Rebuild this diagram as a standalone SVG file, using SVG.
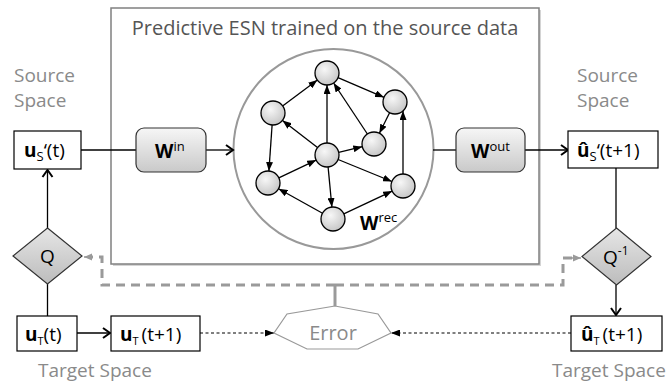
<svg xmlns="http://www.w3.org/2000/svg" width="669" height="383" viewBox="0 0 669 383">
<defs>
<radialGradient id="gNode" cx="0.4" cy="0.35" r="0.7">
<stop offset="0" stop-color="#f7f7f7"/><stop offset="1" stop-color="#c4c4c4"/>
</radialGradient>
<linearGradient id="gBox" x1="0" y1="0" x2="0" y2="1">
<stop offset="0" stop-color="#f6f6f6"/><stop offset="1" stop-color="#c9c9c9"/>
</linearGradient>
<linearGradient id="gDia" x1="0" y1="0" x2="0" y2="1">
<stop offset="0" stop-color="#e6e6e6"/><stop offset="1" stop-color="#bcbcbc"/>
</linearGradient>
<marker id="chev" markerUnits="userSpaceOnUse" markerWidth="12" markerHeight="12" refX="10" refY="6" orient="auto" overflow="visible">
<path d="M3,1 L10,6 L3,11" fill="none" stroke="#000" stroke-width="2"/>
</marker>
<marker id="tri" markerUnits="userSpaceOnUse" markerWidth="9" markerHeight="7" refX="9" refY="3.5" orient="auto">
<path d="M0,0 L9,3.5 L0,7 z" fill="#000"/>
</marker>
<marker id="gtri" markerUnits="userSpaceOnUse" markerWidth="8" markerHeight="8" refX="8" refY="4" orient="auto">
<path d="M0,0.5 L8,4 L0,7.5 z" fill="#9a9a9a"/>
</marker>
</defs>
<style>
text{font-family:"Open Sans","Liberation Sans",sans-serif;}
.lbl{font-size:19px;fill:#8a8a8a;}
.title{font-size:20px;fill:#555;}
.box{fill:#fff;stroke:#000;stroke-width:1.2;}
.wbox{fill:url(#gBox);stroke:#333;stroke-width:1.2;}
.dia{fill:url(#gDia);stroke:#333;stroke-width:1.2;}
.node{fill:url(#gNode);stroke:#000;stroke-width:1.3;}
.bt{font-size:19px;fill:#000;}
.w{font-size:19px;font-weight:bold;fill:#000;}
.sup{font-size:13px;font-weight:normal;}
.edge{stroke:#000;stroke-width:1.3;fill:none;marker-end:url(#tri);}
.solid{stroke:#000;stroke-width:1.3;fill:none;}
.arr{stroke:#000;stroke-width:1.3;fill:none;marker-end:url(#chev);}
.dot{stroke:#000;stroke-width:1.2;stroke-dasharray:3,2.5;fill:none;marker-end:url(#tri);}
.dash{stroke:#9a9a9a;stroke-width:3;stroke-dasharray:9,6;fill:none;}
</style>

<g id="esn-frame">
<rect x="113" y="10" width="428" height="256" fill="#d4d4d4"/>
<rect x="111" y="8" width="428" height="256" fill="#fff" stroke="#808080" stroke-width="1.5"/>
<text class="title" x="325" y="35" text-anchor="middle">Predictive ESN trained on the source data</text>
</g>

<g id="source-label-left"><text class="lbl" x="14" y="82">Source</text><text class="lbl" x="14" y="107">Space</text></g>
<g id="source-label-right"><text class="lbl" x="577" y="82">Source</text><text class="lbl" x="577" y="107">Space</text></g>
<g id="target-label-left"><text class="lbl" x="38" y="377">Target Space</text></g>
<g id="target-label-right"><text class="lbl" x="552" y="377">Target Space</text></g>

<g id="reservoir">
<circle cx="333.5" cy="149" r="100" fill="#fff" stroke="#999" stroke-width="2"/>
<text class="w" x="360" y="230" font-size="20">W<tspan class="sup" dy="-8" font-size="14">rec</tspan></text>
</g>

<g id="connectors">
<line class="edge" x1="282.6" y1="105.9" x2="317.4" y2="80.1"/>
<line class="edge" x1="338" y1="77.7" x2="384" y2="97.3"/>
<line class="edge" x1="327" y1="143" x2="327" y2="85"/>
<line class="edge" x1="367.4" y1="134" x2="333.6" y2="83"/>
<line class="edge" x1="389.6" y1="112.7" x2="379.4" y2="133.3"/>
<line class="edge" x1="403" y1="174" x2="403" y2="111"/>
<line class="edge" x1="317.5" y1="147.6" x2="282.5" y2="120.4"/>
<line class="edge" x1="272.1" y1="125" x2="268.9" y2="171"/>
<line class="edge" x1="278.8" y1="177.9" x2="316.2" y2="160.1"/>
<line class="edge" x1="338.7" y1="152.3" x2="362.3" y2="146.7"/>
<line class="edge" x1="338.1" y1="159.5" x2="391.9" y2="181.5"/>
<line class="edge" x1="328.1" y1="167" x2="331.9" y2="207"/>
<line class="edge" x1="322.5" y1="213.2" x2="278.5" y2="188.8"/>
<line class="edge" x1="343.8" y1="213.9" x2="392.2" y2="191.1"/>
<line class="solid" x1="81" y1="150" x2="136" y2="150"/>
<line class="arr" x1="206" y1="150" x2="233" y2="150"/>
<line class="solid" x1="433" y1="150" x2="456" y2="150"/>
<line class="arr" x1="525" y1="150" x2="568" y2="150"/>
<line class="solid" x1="616" y1="168" x2="616" y2="228"/>
<line class="arr" x1="616" y1="285" x2="616" y2="315"/>
<line class="arr" x1="47.5" y1="228" x2="47.5" y2="170"/>
<line class="solid" x1="47.5" y1="284" x2="47.5" y2="316"/>
<line class="arr" x1="77" y1="333" x2="110" y2="333"/>
<line class="dot" x1="200" y1="333" x2="274" y2="333"/>
<line class="dot" x1="571" y1="333" x2="391" y2="333"/>
<line x1="335" y1="285" x2="335" y2="306" stroke="#9a9a9a" stroke-width="3"/>
<path class="dash" d="M335,285 H102 V257 H92"/>
<line x1="92" y1="257" x2="84" y2="257" stroke="#9a9a9a" stroke-width="1.5" marker-end="url(#gtri)"/>
<path class="dash" d="M335,285 H563 V258 H572"/>
<line x1="572" y1="258" x2="581" y2="258" stroke="#9a9a9a" stroke-width="1.5" marker-end="url(#gtri)"/>
</g>

<g id="node-A"><circle class="node" cx="327" cy="73" r="12"/></g>
<g id="node-B"><circle class="node" cx="395" cy="102" r="12"/></g>
<g id="node-C"><circle class="node" cx="273" cy="113" r="12"/></g>
<g id="node-D"><circle class="node" cx="327" cy="155" r="12"/></g>
<g id="node-E"><circle class="node" cx="374" cy="144" r="12"/></g>
<g id="node-F"><circle class="node" cx="268" cy="183" r="12"/></g>
<g id="node-G"><circle class="node" cx="403" cy="186" r="12"/></g>
<g id="node-H"><circle class="node" cx="333" cy="219" r="12"/></g>

<g id="win"><rect class="wbox" x="136" y="128" width="70" height="44" rx="8"/>
<text class="w" x="155" y="158">W<tspan class="sup" dy="-7">in</tspan></text></g>
<g id="wout"><rect class="wbox" x="456" y="128" width="69" height="44" rx="8"/>
<text class="w" x="471" y="158">W<tspan class="sup" dy="-7">out</tspan></text></g>

<g id="us-t"><rect class="box" x="14" y="131" width="67" height="38"/>
<text class="bt" x="24" y="157"><tspan font-weight="bold">u</tspan><tspan font-size="13" dy="4">S</tspan><tspan dy="-4">‘(t)</tspan></text></g>
<g id="us-hat"><rect class="box" x="568" y="131" width="90" height="37"/>
<text class="bt" x="577" y="157"><tspan font-weight="bold">û</tspan><tspan font-size="13" dy="4">S</tspan><tspan dy="-4">‘(t+1)</tspan></text></g>

<g id="q"><polygon class="dia" points="47.5,228 82,256 47.5,284 13,256"/>
<text class="bt" x="47.5" y="263" text-anchor="middle" font-size="19">Q</text></g>
<g id="q-inv"><polygon class="dia" points="616.5,228 651,256.5 616.5,285 582,256.5"/>
<text class="bt" x="603" y="264" font-size="19">Q<tspan font-size="12" dy="-9">-1</tspan></text></g>

<g id="ut-t"><rect class="box" x="17" y="316" width="60" height="35"/>
<text class="bt" x="25" y="341"><tspan font-weight="bold">u</tspan><tspan font-size="11" dy="4">T</tspan><tspan dy="-4">(t)</tspan></text></g>
<g id="ut-t1"><rect class="box" x="111" y="316" width="89" height="35"/>
<text class="bt" x="120" y="341"><tspan font-weight="bold">u</tspan><tspan font-size="11" dy="4">T</tspan><tspan dy="-4" dx="3">(t+1)</tspan></text></g>
<g id="ut-hat"><rect class="box" x="571" y="316" width="91" height="35"/>
<text class="bt" x="581" y="341"><tspan font-weight="bold">û</tspan><tspan font-size="11" dy="4">T</tspan><tspan dy="-4" dx="3">(t+1)</tspan></text></g>

<g id="error"><polygon points="335,306 287,314 274,333 307,349 358,349 391,333 378,314" fill="#fff" stroke="#999" stroke-width="1.2"/>
<text x="333" y="340" text-anchor="middle" font-size="20" fill="#8a8a8a">Error</text></g>
</svg>
